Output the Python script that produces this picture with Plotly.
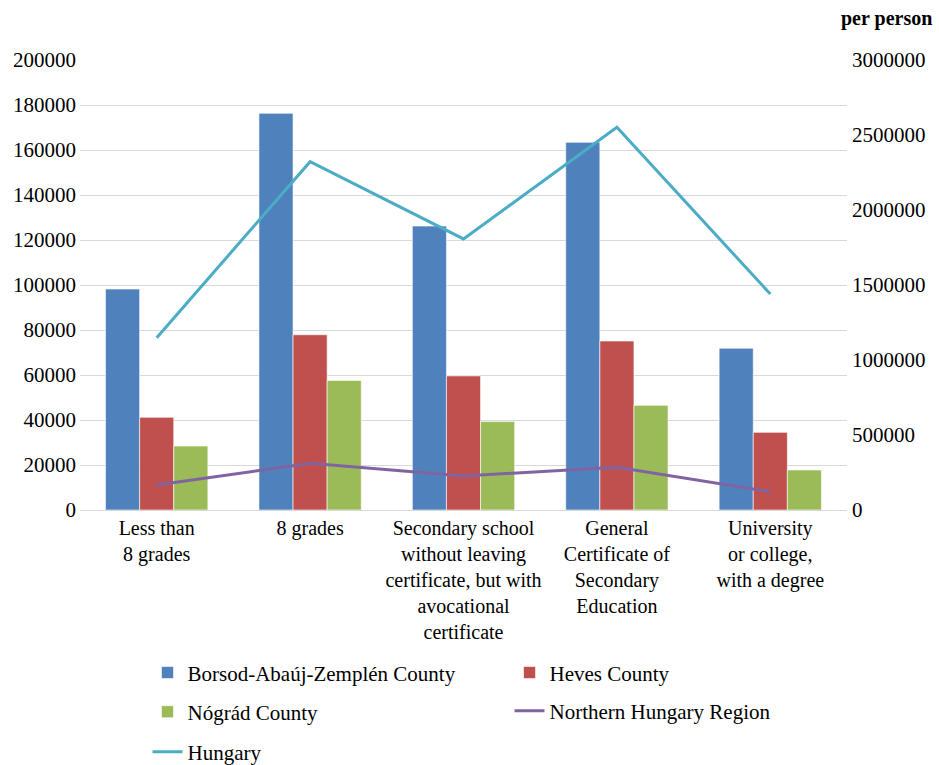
import plotly.graph_objects as go

categories = [
    "Less than<br>8 grades",
    "8 grades",
    "Secondary school<br>without leaving<br>certificate, but with<br>avocational<br>certificate",
    "General<br>Certificate of<br>Secondary<br>Education",
    "University<br>or college,<br>with a degree",
]
borsod = [98200, 176300, 126200, 163400, 71900]
heves = [41200, 77900, 59600, 75100, 34500]
nograd = [28400, 57600, 39300, 46500, 17800]
northern = [166700, 311000, 226700, 284700, 122000]
hungary = [1148700, 2322000, 1807000, 2551000, 1440000]

left_ticks = list(range(0, 200001, 20000))
right_ticks = list(range(0, 3000001, 500000))

FONT = "Liberation Serif, Times New Roman, serif"
fig = go.Figure()

bar_line = dict(color="rgba(255,255,255,0.6)", width=1)
fig.add_trace(go.Bar(x=categories, y=borsod, name="Borsod-Abaúj-Zemplén County",
                     marker=dict(color="#4F81BD", line=bar_line), legend="legend"))
fig.add_trace(go.Bar(x=categories, y=heves, name="Heves County",
                     marker=dict(color="#C0504D", line=bar_line), legend="legend2"))
fig.add_trace(go.Bar(x=categories, y=nograd, name="Nógrád County",
                     marker=dict(color="#9BBB59", line=bar_line), legend="legend3"))
fig.add_trace(go.Scatter(x=categories, y=northern, name="Northern Hungary Region", mode="lines",
                         line=dict(color="#8064A2", width=3), yaxis="y2", legend="legend4"))
fig.add_trace(go.Scatter(x=categories, y=hungary, name="Hungary", mode="lines",
                         line=dict(color="#4BACC6", width=3), yaxis="y2", legend="legend5"))

def leg(x, y):
    return dict(x=x, y=y, xanchor="left", yanchor="middle", bgcolor="rgba(0,0,0,0)",
                font=dict(family=FONT, size=21, color="#000"), itemwidth=30)

fig.update_layout(
    width=939, height=765,
    margin=dict(l=80, r=92, t=60, b=255, autoexpand=False),
    showlegend=True,
    plot_bgcolor="white", paper_bgcolor="white",
    font=dict(family=FONT, size=20, color="#000"),
    barmode="group", bargap=0.333, bargroupgap=0,
    xaxis=dict(type="category", showgrid=False, showline=True, linecolor="#D9D9D9",
               ticks="", tickfont=dict(family=FONT, size=20), tickangle=0),
    yaxis=dict(range=[0, 200000], tickvals=left_ticks, ticktext=[str(v) for v in left_ticks],
               showgrid=True, gridcolor="#D9D9D9", gridwidth=1, zeroline=False,
               ticks="", tickfont=dict(family=FONT, size=21), ticklabelstandoff=3),
    yaxis2=dict(range=[0, 3000000], tickvals=right_ticks, ticktext=[str(v) for v in right_ticks],
                overlaying="y", side="right", showgrid=False, zeroline=False,
                ticks="", tickfont=dict(family=FONT, size=21), ticklabelstandoff=4),
    legend=leg(0.088, -0.362),
    legend2=leg(0.560, -0.362),
    legend3=leg(0.088, -0.449),
    legend4=leg(0.560, -0.447),
    legend5=leg(0.088, -0.538),
    annotations=[dict(text="<b>per person</b>", xref="paper", yref="paper", x=1.051, y=1.093,
                      xanchor="center", yanchor="middle", showarrow=False,
                      font=dict(family=FONT, size=20, color="#000"))],
)

fig.write_html("out.html")
